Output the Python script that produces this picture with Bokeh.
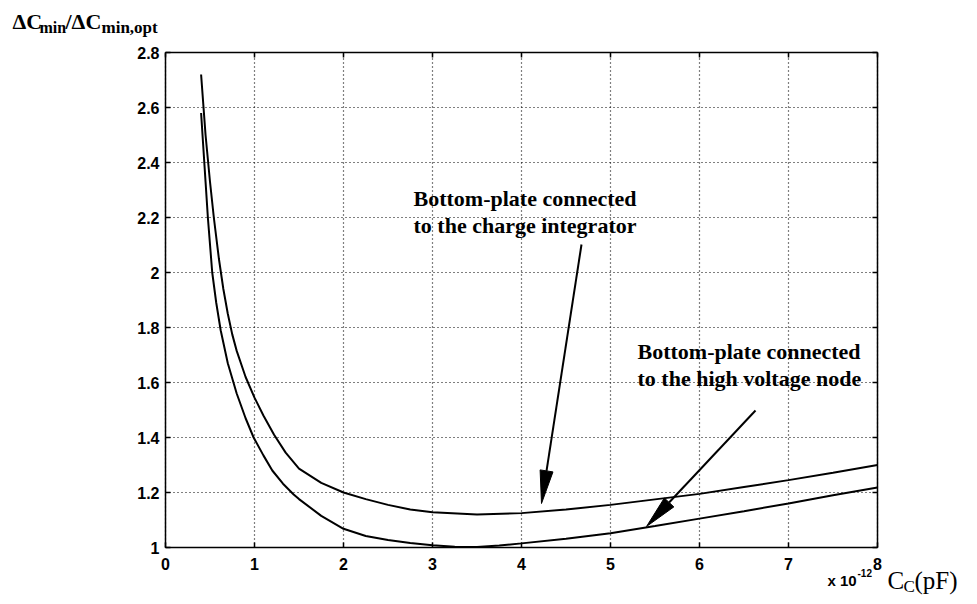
from bokeh.plotting import figure
from bokeh.models import Range1d, FixedTicker, Label, ColumnDataSource
from bokeh.embed import file_html
from bokeh.resources import INLINE

# ---- data ----
integrator_x = [0.4, 0.45, 0.5, 0.543, 0.6, 0.65, 0.7, 0.75, 0.8, 0.9, 1.0, 1.1, 1.22, 1.35, 1.5, 1.75, 2.0, 2.25, 2.5, 2.75, 3.0, 3.5, 4.0, 4.5, 5.0, 5.5, 6.0, 6.5, 7.0, 7.5, 8.0]
integrator_y = [2.72, 2.5, 2.33, 2.2, 2.05, 1.94, 1.85, 1.775, 1.715, 1.62, 1.545, 1.48, 1.41, 1.345, 1.287, 1.235, 1.2, 1.176, 1.155, 1.138, 1.128, 1.12, 1.125, 1.138, 1.155, 1.175, 1.195, 1.22, 1.245, 1.272, 1.30]

hv_node_x = [0.4, 0.45, 0.476, 0.525, 0.57, 0.62, 0.7, 0.8, 0.9, 0.99, 1.1, 1.2, 1.32, 1.44, 1.5, 1.75, 2.0, 2.25, 2.5, 2.75, 3.0, 3.25, 3.5, 3.75, 4.0, 4.5, 5.0, 5.5, 6.0, 6.5, 7.0, 7.5, 8.0]
hv_node_y = [2.58, 2.33, 2.2, 2.0, 1.89, 1.79, 1.67, 1.56, 1.47, 1.4, 1.335, 1.28, 1.232, 1.193, 1.176, 1.115, 1.068, 1.042, 1.027, 1.016, 1.008, 1.003, 1.002, 1.007, 1.015, 1.032, 1.052, 1.078, 1.105, 1.132, 1.16, 1.19, 1.218]

x_ticks = [0, 1, 2, 3, 4, 5, 6, 7, 8]
y_ticks = [1, 1.2, 1.4, 1.6, 1.8, 2, 2.2, 2.4, 2.6, 2.8]
y_tick_labels = ["1", "1.2", "1.4", "1.6", "1.8", "2", "2.2", "2.4", "2.6", "2.8"]

ann1_lines = ["Bottom-plate connected", "to the charge integrator"]
ann2_lines = ["Bottom-plate connected", "to the high voltage node"]

# ---- layout: the canvas is one frame; the chart box sits inside it ----
W, H = 972, 600
BOX_L, BOX_R, BOX_T, BOX_B = 165, 877, 52, 547   # pixel edges of the chart box
X0, X1, Y0, Y1 = 0, 8, 1, 2.8
SX = (BOX_R - BOX_L) / (X1 - X0)
SY = (BOX_B - BOX_T) / (Y1 - Y0)
TICK_LEN = 5


def to_data(px, py):
    return X0 + (px - BOX_L) / SX, Y1 - (py - BOX_T) / SY


p = figure(width=W, height=H, output_backend="svg", toolbar_location=None,
           x_range=Range1d(X0 - BOX_L / SX, X1 + (W - BOX_R) / SX),
           y_range=Range1d(Y0 - (H - BOX_B) / SY, Y1 + BOX_T / SY),
           min_border_left=0, min_border_right=0, min_border_top=0, min_border_bottom=0)
p.background_fill_color = "white"
p.border_fill_color = "white"
p.outline_line_color = None
p.xgrid.visible = False
p.ygrid.visible = False

# dotted grid inside the box, from the tick arrays
p.segment(x0=x_ticks, y0=[Y0] * len(x_ticks), x1=x_ticks, y1=[Y1] * len(x_ticks),
          line_color="black", line_dash="1 3", line_width=1.2)
p.segment(x0=[X0] * len(y_ticks), y0=y_ticks, x1=[X1] * len(y_ticks), y1=y_ticks,
          line_color="black", line_dash="1 3", line_width=1.2)

TICK_FONT = "Liberation Sans"


def style_axis(ax, ticks, loc, bounds):
    ax.ticker = FixedTicker(ticks=ticks)
    ax.fixed_location = loc
    ax.bounds = bounds
    ax.minor_tick_line_color = None
    ax.major_tick_in = TICK_LEN
    ax.major_tick_out = 0
    ax.major_tick_line_width = 1.5
    ax.major_tick_line_color = "black"
    ax.axis_line_color = "black"
    ax.axis_line_width = 1.5
    ax.major_label_text_font = TICK_FONT
    ax.major_label_text_font_style = "bold"
    ax.major_label_text_font_size = "16px"
    ax.major_label_text_color = "black"


style_axis(p.xaxis[0], x_ticks, Y0, (X0, X1))
p.xaxis[0].major_label_standoff = 10
style_axis(p.yaxis[0], y_ticks, X0, (Y0, Y1))
p.yaxis[0].major_label_standoff = 6
p.yaxis[0].major_label_overrides = {t: s for t, s in zip(y_ticks, y_tick_labels)}

# top and right sides of the box with inward ticks (no labels)
p.segment(x0=[X0, X1], y0=[Y1, Y0], x1=[X1, X1], y1=[Y1, Y1], line_color="black", line_width=1.5)
p.segment(x0=x_ticks, y0=[Y1] * len(x_ticks), x1=x_ticks, y1=[Y1 - TICK_LEN / SY] * len(x_ticks),
          line_color="black", line_width=1.5)
p.segment(x0=[X1] * len(y_ticks), y0=y_ticks, x1=[X1 - TICK_LEN / SX] * len(y_ticks), y1=y_ticks,
          line_color="black", line_width=1.5)

# curves
src1 = ColumnDataSource(dict(x=integrator_x, y=integrator_y))
src2 = ColumnDataSource(dict(x=hv_node_x, y=hv_node_y))
p.line("x", "y", source=src1, line_color="black", line_width=2)
p.line("x", "y", source=src2, line_color="black", line_width=2)

SERIF = "Liberation Serif"


def add_label(text, px, py, font, size, style="normal"):
    x, y = to_data(px, py)
    p.add_layout(Label(x=x, y=y, text=text, text_font=font, text_font_size=size,
                       text_font_style=style, text_color="black",
                       text_align="left", text_baseline="alphabetic"))


add_label(ann1_lines[0], 413, 198, SERIF, "22px", "bold")
add_label(ann1_lines[1], 413, 225, SERIF, "22px", "bold")
add_label(ann2_lines[0], 637, 351, SERIF, "22px", "bold")
add_label(ann2_lines[1], 637, 378, SERIF, "22px", "bold")

# arrows: tail and tip in pixels, head built along the shaft direction
arrows_px = [((581, 244), (541, 503)), ((755, 410), (646, 526))]
HEAD_L, HEAD_W = 33, 13
for (tx, ty), (hx, hy) in arrows_px:
    dx, dy = hx - tx, hy - ty
    n = (dx * dx + dy * dy) ** 0.5
    ux, uy = dx / n, dy / n
    bx, by = hx - ux * HEAD_L, hy - uy * HEAD_L
    xs0, ys0 = to_data(tx, ty)
    xb, yb = to_data(bx, by)
    p.line([xs0, xb], [ys0, yb], line_color="black", line_width=2)
    pts = [(hx, hy), (bx - uy * HEAD_W / 2, by + ux * HEAD_W / 2), (bx + uy * HEAD_W / 2, by - ux * HEAD_W / 2)]
    dpts = [to_data(a, b) for a, b in pts]
    p.patch([d[0] for d in dpts], [d[1] for d in dpts], fill_color="black", line_color="black", line_width=1)

# y-axis title (top-left)
add_label("ΔC", 12, 21, SERIF, "22px", "bold")
add_label("min", 39, 27, SERIF, "16px", "bold")
add_label("/ΔC", 65, 21, SERIF, "22px", "bold")
add_label("min,opt", 101, 27, SERIF, "17px", "bold")

# x-axis title (bottom-right)
add_label("x 10", 827, 580, TICK_FONT, "15px", "bold")
add_label("-12", 857, 572, TICK_FONT, "10px", "bold")
add_label("C", 887, 580, SERIF, "25px")
add_label("C", 903, 586, SERIF, "17px")
add_label("(pF)", 914, 580, SERIF, "25px")

open("out.html", "w").write(file_html(p, INLINE))
